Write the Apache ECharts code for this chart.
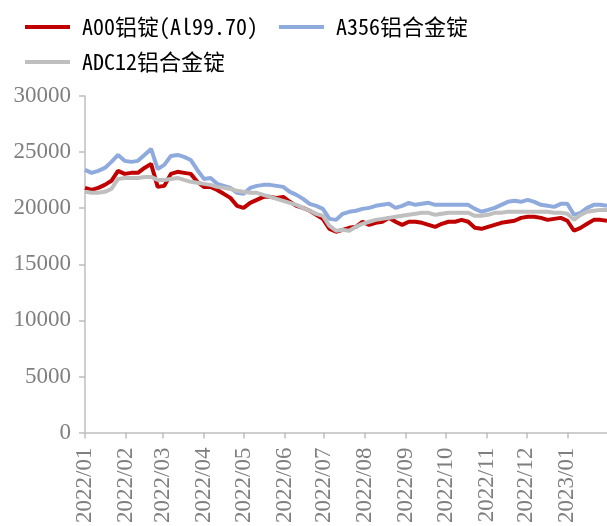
<!DOCTYPE html>
<html>
<head>
<meta charset="utf-8">
<title>铝锭价格</title>
<script src="https://cdn.jsdelivr.net/npm/echarts@6/dist/echarts.min.js"></script>
<style>
  html, body { margin: 0; padding: 0; background: #fff; }
  #chart { width: 607px; height: 526px; }
</style>
</head>
<body>
<div id="chart"></div>
<script>
// Sampling dates (every 5 days)
const dates = [
  '2022-01-01','2022-01-06','2022-01-11','2022-01-16','2022-01-21','2022-01-26','2022-01-31',
  '2022-02-05','2022-02-10','2022-02-15','2022-02-20','2022-02-25','2022-03-02','2022-03-07',
  '2022-03-12','2022-03-17','2022-03-22','2022-03-27','2022-04-01','2022-04-06','2022-04-11',
  '2022-04-16','2022-04-21','2022-04-26','2022-05-01','2022-05-06','2022-05-11','2022-05-16',
  '2022-05-21','2022-05-26','2022-05-31','2022-06-05','2022-06-10','2022-06-15','2022-06-20',
  '2022-06-25','2022-06-30','2022-07-05','2022-07-10','2022-07-15','2022-07-20','2022-07-25',
  '2022-07-30','2022-08-04','2022-08-09','2022-08-14','2022-08-19','2022-08-24','2022-08-29',
  '2022-09-03','2022-09-08','2022-09-13','2022-09-18','2022-09-23','2022-09-28','2022-10-03',
  '2022-10-08','2022-10-13','2022-10-18','2022-10-23','2022-10-28','2022-11-02','2022-11-07',
  '2022-11-12','2022-11-17','2022-11-22','2022-11-27','2022-12-02','2022-12-07','2022-12-12',
  '2022-12-17','2022-12-22','2022-12-27','2023-01-01','2023-01-06','2023-01-11','2023-01-16',
  '2023-01-21','2023-01-26','2023-01-31'
];

// A00铝锭(Al99.70), 元/吨
const a00 = [
  21810,21630,21810,22080,22440,23330,23060,23150,23150,23590,23950,21900,21990,23060,
  23240,23150,23060,22350,21900,21900,21630,21280,20920,20210,20030,20480,20740,21010,
  21010,20920,21010,20570,20210,20030,19770,19410,19050,18160,17900,18070,18250,18340,
  18790,18520,18700,18790,19140,18790,18520,18790,18790,18700,18520,18340,18610,18790,
  18790,18960,18790,18250,18160,18340,18520,18700,18790,18880,19140,19230,19230,19140,
  18960,19050,19140,18880,17990,18250,18610,18960,18960,18880
];

// A356铝合金锭
const a356 = [
  23410,23150,23330,23590,24130,24750,24220,24130,24220,24750,25280,23500,23860,24660,
  24750,24570,24300,23410,22610,22700,22170,21990,21810,21370,21280,21810,21990,22080,
  22080,21990,21900,21460,21190,20830,20390,20210,19940,19050,18960,19500,19680,19770,
  19940,20030,20210,20300,20390,20030,20210,20480,20300,20390,20480,20300,20300,20300,
  20300,20300,20300,19940,19680,19850,20030,20300,20570,20660,20570,20740,20570,20300,
  20210,20120,20390,20390,19410,19590,20030,20300,20300,20210
];

// ADC12铝合金锭
const adc12 = [
  21460,21370,21370,21460,21720,22610,22700,22700,22700,22790,22790,22520,22520,22610,
  22700,22520,22350,22260,22170,22080,21900,21810,21720,21550,21460,21370,21370,21190,
  21010,20830,20660,20480,20300,20030,19770,19500,19320,18430,17990,18070,17990,18340,
  18610,18790,18960,19050,19140,19230,19320,19410,19500,19590,19590,19410,19500,19590,
  19590,19590,19590,19320,19320,19410,19590,19590,19680,19680,19680,19680,19680,19680,
  19680,19590,19590,19500,18960,19410,19680,19770,19850,19850
];

const seriesNames = ['A00铝锭(Al99.70)', 'A356铝合金锭', 'ADC12铝合金锭'];
const seriesColors = ['#C00000', '#8FAADC', '#BFBFBF'];
const yTicks = [0, 5000, 10000, 15000, 20000, 25000, 30000];

const pairs = arr => dates.map((d, i) => [d, arr[i]]);

const axisFont = 'Liberation Serif';
const labelColor = '#7F7F7F';
const axisColor = '#BFBFBF';
const legendFont = "'Noto Sans Mono CJK SC', 'Noto Sans CJK SC', sans-serif";

const chart = echarts.init(document.getElementById('chart'), null, { renderer: 'canvas' });

const legendText = {
  color: '#000',
  fontFamily: legendFont,
  fontSize: 22,
  lineHeight: 24,
  padding: [0, 0, 0, 7]
};

chart.setOption({
  animation: false,
  backgroundColor: '#fff',
  legend: [
    {
      data: seriesNames.slice(0, 2),
      left: 20, top: 10,
      icon: 'rect', itemWidth: 45, itemHeight: 4, itemGap: 21,
      textStyle: legendText
    },
    {
      data: seriesNames.slice(2),
      left: 20, top: 45,
      icon: 'rect', itemWidth: 45, itemHeight: 4,
      textStyle: legendText
    }
  ],
  grid: { left: 85, right: 0, top: 96, bottom: 93, containLabel: false },
  xAxis: {
    type: 'time',
    min: '2022-01-01',
    max: '2023-01-31',
    minInterval: 28 * 86400000,
    maxInterval: 31 * 86400000,
    splitLine: { show: false },
    axisLine: { lineStyle: { color: axisColor, width: 1.5 } },
    axisTick: { show: true, length: 6, lineStyle: { color: axisColor, width: 1.5 } },
    axisLabel: {
      rotate: 90,
      margin: 15,
      color: labelColor,
      fontFamily: axisFont,
      fontSize: 23,
      hideOverlap: false,
      formatter: function (v) {
        const d = new Date(v);
        const m = d.getMonth() + 1;
        return d.getFullYear() + '/' + (m < 10 ? '0' + m : m);
      }
    }
  },
  yAxis: {
    type: 'value',
    min: yTicks[0],
    max: yTicks[yTicks.length - 1],
    interval: yTicks[1] - yTicks[0],
    splitLine: { show: false },
    axisLine: { show: true, lineStyle: { color: axisColor, width: 1.5 } },
    axisTick: { show: true, length: 6, lineStyle: { color: axisColor, width: 1.5 } },
    axisLabel: {
      margin: 14,
      color: labelColor,
      fontFamily: axisFont,
      fontSize: 23,
      formatter: v => String(v)
    }
  },
  series: [
    { name: seriesNames[0], type: 'line', data: pairs(a00), z: 3 },
    { name: seriesNames[1], type: 'line', data: pairs(a356), z: 2 },
    { name: seriesNames[2], type: 'line', data: pairs(adc12), z: 4 }
  ].map((s, i) => Object.assign(s, {
    showSymbol: false,
    symbol: 'none',
    color: seriesColors[i],
    lineStyle: { width: 4, color: seriesColors[i] }
  }))
});
</script>
</body>
</html>
